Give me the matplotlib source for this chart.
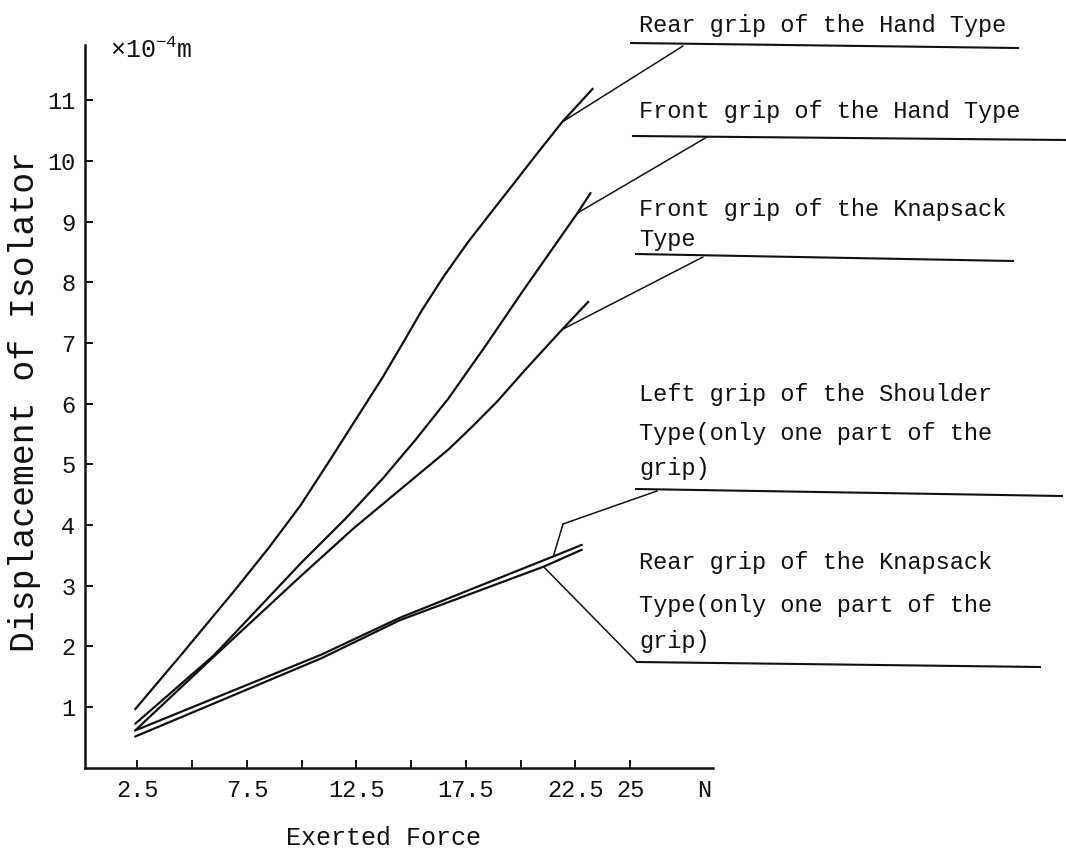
import matplotlib.pyplot as plt
from matplotlib.lines import Line2D

plt.rcParams['font.family'] = ['Liberation Mono', 'DejaVu Sans Mono']
plt.rcParams['mathtext.fontset'] = 'custom'
plt.rcParams['mathtext.rm'] = 'Liberation Mono'

INK = '#111111'
W, H = 1066, 849  # canvas size in pixels

# Exerted force [N] vs. displacement of isolator [x1e-4 m]
rear_hand_f = [2.4, 4.6, 6.9, 8.5, 9.95, 11.3, 12.5, 13.7, 14.6, 15.5, 16.5, 17.6,
               18.7, 19.7, 20.8, 21.9, 23.3]
rear_hand_d = [0.96, 1.90, 2.90, 3.62, 4.32, 5.07, 5.75, 6.43, 6.98, 7.54, 8.10, 8.66,
               9.17, 9.63, 10.14, 10.64, 11.19]

front_hand_f = [2.4, 6.0, 10.0, 12.0, 13.7, 15.2, 16.7, 18.4, 20.0, 22.6, 23.2]
front_hand_d = [0.72, 1.85, 3.38, 4.10, 4.76, 5.40, 6.08, 6.95, 7.80, 9.14, 9.47]

front_knap_f = [2.4, 6.0, 9.95, 12.4, 14.5, 16.7, 17.8, 18.95, 20.2, 21.9, 23.1]
front_knap_d = [0.61, 1.83, 3.15, 3.95, 4.58, 5.24, 5.62, 6.04, 6.55, 7.22, 7.68]

left_shoulder_f = [2.4, 10.9, 14.5, 21.5, 22.8]
left_shoulder_d = [0.61, 1.86, 2.47, 3.48, 3.67]

rear_knap_f = [2.4, 10.9, 14.5, 21.05, 22.8]
rear_knap_d = [0.51, 1.80, 2.43, 3.31, 3.59]

x_ticks = [2.5, 5, 7.5, 10, 12.5, 15, 17.5, 20, 22.5, 25]
x_tick_labels = ['2.5', '', '7.5', '', '12.5', '', '17.5', '', '22.5', '25']
y_ticks = [1, 2, 3, 4, 5, 6, 7, 8, 9, 10, 11]


def fxy(px, py):
    # pixel position -> figure fraction
    return px / W, 1 - py / H


# series, anchor point index, leader path, underline, text lines with baselines
callouts = [
    ((rear_hand_f, rear_hand_d), 15, [(683, 46)], [(631, 43), (1018, 48)],
     ['Rear grip of the Hand Type'], [32]),
    ((front_hand_f, front_hand_d), 9, [(707, 137)], [(633, 136), (1066, 140)],
     ['Front grip of the Hand Type'], [118]),
    ((front_knap_f, front_knap_d), 9, [(703, 257)], [(636, 254), (1013, 261)],
     ['Front grip of the Knapsack', 'Type'], [216, 246]),
    ((left_shoulder_f, left_shoulder_d), 3, [(563, 524), (657, 491)], [(636, 489), (1062, 496)],
     ['Left grip of the Shoulder', 'Type(only one part of the', 'grip)'], [401, 440, 475]),
    ((rear_knap_f, rear_knap_d), 3, [(637, 662)], [(637, 662), (1040, 667)],
     ['Rear grip of the Knapsack', 'Type(only one part of the', 'grip)'], [569, 612, 648]),
]

fig = plt.figure(figsize=(W / 100, H / 100), dpi=100)
ax = fig.add_axes([85 / W, 1 - 767.5 / H, 628 / W, 722.5 / H])

for f, d in [(rear_hand_f, rear_hand_d), (front_hand_f, front_hand_d),
             (front_knap_f, front_knap_d), (left_shoulder_f, left_shoulder_d),
             (rear_knap_f, rear_knap_d)]:
    ax.plot(f, d, color=INK, lw=1.6, solid_capstyle='round', solid_joinstyle='round')

ax.set_xlim(0.11, 28.79)
ax.set_ylim(0, 11.91)
for side in ['top', 'right']:
    ax.spines[side].set_visible(False)
for side in ['left', 'bottom']:
    ax.spines[side].set_linewidth(1.8)
    ax.spines[side].set_color(INK)

ax.set_xticks(x_ticks)
ax.set_xticklabels(x_tick_labels)
ax.set_yticks(y_ticks)
ax.tick_params(direction='in', length=6, width=1.4, colors=INK, labelsize=17)
ax.tick_params(axis='x', pad=8)
ax.tick_params(axis='y', pad=7)
ax.annotate('N', xy=(28.4, 0), xytext=(0, -8), textcoords='offset points',
            ha='center', va='top', fontsize=17, color=INK)

fig.text(*fxy(110, 58), r'$\times$10$^{-4}$m', fontsize=18, color=INK, va='baseline')
fig.text(*fxy(384, 838), 'Exerted Force', fontsize=18, color=INK, ha='center', va='center')
fig.text(*fxy(25, 402), 'Displacement of Isolator', fontsize=25, color=INK,
         rotation=90, ha='center', va='center')

# callout leaders, underlines and labels
for (f, d), idx, path, under, lines, baselines in callouts:
    ax.annotate('', xy=(f[idx], d[idx]), xycoords='data',
                xytext=fxy(*path[0]), textcoords='figure fraction',
                arrowprops=dict(arrowstyle='-', lw=1.1, color=INK, shrinkA=0, shrinkB=0))
    if len(path) > 1:
        pts = [fxy(*p) for p in path]
        fig.add_artist(Line2D([p[0] for p in pts], [p[1] for p in pts],
                              lw=1.1, color=INK, transform=fig.transFigure))
    u = [fxy(*p) for p in under]
    fig.add_artist(Line2D([u[0][0], u[1][0]], [u[0][1], u[1][1]],
                          lw=1.5, color=INK, transform=fig.transFigure))
    for txt, base in zip(lines, baselines):
        fig.text(*fxy(639, base), txt, fontsize=17, color=INK, va='baseline')

fig.savefig('out.png', dpi=100)
